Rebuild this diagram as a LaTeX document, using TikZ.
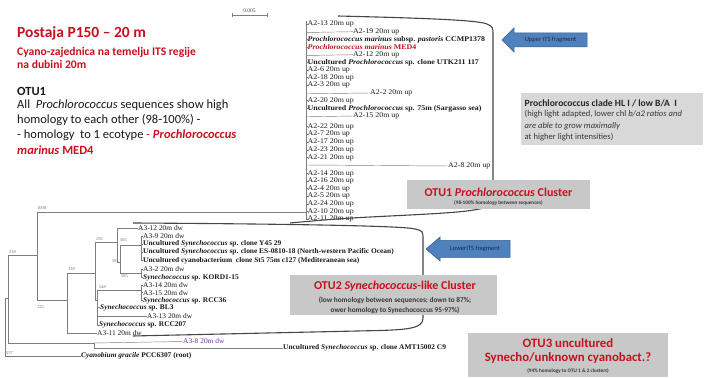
\documentclass[tikz,border=0pt]{standalone}
\usepackage{fontspec}
\setmainfont{Liberation Serif}
\newfontfamily\treefont[FakeStretch=1.1]{Liberation Serif}
\newfontfamily\treefontb[FakeStretch=1.03]{Liberation Serif}
\newfontfamily\calib{Carlito}
\definecolor{txtred}{RGB}{200,16,30}
\definecolor{boxgray}{RGB}{200,200,200}
\definecolor{boxlight}{RGB}{216,216,216}
\definecolor{arrblue}{RGB}{79,129,189}
\definecolor{arredge}{RGB}{56,93,138}
\definecolor{arrtxt}{RGB}{25,40,90}
\definecolor{purp}{RGB}{112,48,160}
\definecolor{treeline}{RGB}{125,125,125}
\definecolor{treetxt}{RGB}{25,25,25}
\definecolor{brkline}{RGB}{70,70,70}
\definecolor{subtxt}{RGB}{55,55,55}
\begin{document}
\begin{tikzpicture}[x=1pt,y=-1pt,
  tl/.style={anchor=west,inner sep=0pt,font=\treefont\fontsize{7.2}{7.2}\selectfont,text=treetxt},
  tlb/.style={anchor=west,inner sep=0pt,font=\treefontb\fontsize{7.2}{7.2}\selectfont,text=treetxt},
  bs/.style={anchor=west,inner sep=0pt,font=\fontsize{4.5}{4.5}\selectfont,text=black!55},
  br/.style={draw=treeline,line width=0.45pt},
  brk/.style={draw=brkline,line width=1.1pt},
  lt/.style={anchor=west,inner sep=0pt,text=treetxt},
  arrowshape/.style={fill=arrblue,draw=arredge,line width=0.5pt},
  arrlabel/.style={inner sep=0pt,font=\calib\fontsize{6.5}{6.5}\selectfont,text=arrtxt},
  redtitle/.style={inner sep=0pt,font=\calib\bfseries\fontsize{12}{12}\selectfont,text=txtred},
  smallsub/.style={inner sep=0pt,font=\calib\bfseries\fontsize{6}{6}\selectfont,text=subtxt}]
\useasboundingbox (0,0) rectangle (705,379);
\fill[white] (0,0) rectangle (705,379);

% ---------- top-left text ----------
\node[lt,font=\calib\bfseries\fontsize{15.5}{15.5}\selectfont,text=txtred] (title) at (17,33) {Postaja P150 – 20 m};
\node[lt,font=\calib\bfseries\fontsize{11.6}{11.6}\selectfont,text=txtred] (sub1) at (17,52) {Cyano-zajednica na temelju ITS regije};
\node[lt,font=\calib\bfseries\fontsize{11.6}{11.6}\selectfont,text=txtred] (sub2) at (17,64.5) {na dubini 20m};
\node[lt,font=\calib\bfseries\fontsize{12.5}{12.5}\selectfont] (otuh) at (17,91) {OTU1};
\node[lt,font=\calib\fontsize{12.5}{12.5}\selectfont] (l1) at (17,105) {All\ \ \textit{Prochlorococcus} sequences show high};
\node[lt,font=\calib\fontsize{12.5}{12.5}\selectfont] (l2) at (17,120) {homology to each other (98-100\%) -};
\node[lt,font=\calib\fontsize{12.5}{12.5}\selectfont] (l3) at (17,135) {- homology\ \ to 1 ecotype {\color{txtred}- \bfseries\itshape Prochlorococcus}};
\node[lt,font=\calib\bfseries\fontsize{12.5}{12.5}\selectfont,text=txtred] (l4) at (17,150) {\textit{marinus} MED4};

% ---------- scale bar ----------
\coordinate (sc1) at (232,15);
\coordinate (sc2) at (267,15);
\draw[br] (sc1) -- (sc2);
\draw[br] ([yshift=-2pt]sc1) -- ([yshift=2pt]sc1);
\draw[br] ([yshift=-2pt]sc2) -- ([yshift=2pt]sc2);
\node[inner sep=0pt,font=\fontsize{5.5}{5.5}\selectfont,text=black!70] (scl) at (249.5,10.5) {0.005};

% ---------- Prochlorococcus clade (A2) ----------
\coordinate (pv1) at (306,21);
\coordinate (pv2) at (306,220);
\draw[br] (pv1) -- (pv2);
\foreach \nm/\y/\txt in {
  a13/24/{A2-13 20m up},
  ccmp/39.3/{\textbf{\textit{Prochlorococcus marinus} subsp. \textit{pastoris} CCMP1378}},
  utk/62.3/{\textbf{Uncultured \textit{Prochlorococcus} sp. clone UTK211 117}},
  a6/70/{A2-6 20m up},
  a18/77.7/{A2-18 20m up},
  a3/85.3/{A2-3 20m up},
  a20/100.7/{A2-20 20m up},
  sarg/108.3/{\textbf{Uncultured \textit{Prochlorococcus} sp. 75m (Sargasso sea)}},
  a22/126.5/{A2-22 20m up},
  a7/134.3/{A2-7 20m up},
  a17/142.1/{A2-17 20m up},
  a23/149.9/{A2-23 20m up},
  a21/157.7/{A2-21 20m up},
  a14/173.5/{A2-14 20m up},
  a16/181.1/{A2-16 20m up},
  a4/188.7/{A2-4 20m up},
  a5/196.3/{A2-5 20m up},
  a24/203.9/{A2-24 20m up},
  a10/211.5/{A2-10 20m up},
  a11/219.1/{A2-11 20m up}} {
  \draw[br] (306,\y) -- (307.5,\y);
  \node[tl] (\nm) at (307.5,\y) {\txt};
}
\node[tl,text=txtred] (med4) at (307.5,47) {\textbf{\textit{Prochlorococcus marinus} MED4}};
\draw[br] (306,47) -- (med4.west);
\node[tl] (a19) at (353,31.7) {A2-19 20m up};
\draw[br] (306,32.5) -- (a19.west);
\node[tl] (a12) at (353,54.7) {A2-12 20m up};
\draw[br] (306,55.5) -- (a12.west);
\node[tl] (a2) at (370,93) {A2-2 20m up};
\draw[br] (306,93.8) -- (a2.west);
\node[tl] (a15) at (353,116) {A2-15 20m up};
\draw[br] (306,116.8) -- (a15.west);
\node[tl] (a8) at (448,166) {A2-8 20m up};
\draw[br] (306,165) -- (a8.west);

% ---------- Synechococcus part ----------
\node[tlb] (b12) at (138,228.5) {A3-12 20m dw};
\node[tlb] (b9) at (143,236.5) {A3-9 20m dw};
\node[tlb] (y45) at (143,244) {\textbf{Uncultured \textit{Synechococcus} sp. clone Y45 29}};
\node[tlb] (es) at (143,252) {\textbf{Uncultured \textit{Synechococcus} sp. clone ES-0810-18 (North-western Pacific Ocean)}};
\node[tlb] (st5) at (143,260.5) {\textbf{Uncultured cyanobacterium\ \ clone St5 75m c127 (Mediteranean sea)}};
\node[tlb] (b2) at (143,269.5) {A3-2 20m dw};
\node[tlb] (kord) at (143,277.5) {\textbf{\textit{Synechococcus} sp. KORD1-15}};
\node[tlb] (b14) at (143,285) {A3-14 20m dw};
\node[tlb] (b15) at (143,292.7) {A3-15 20m dw};
\node[tlb] (rcc36) at (143,300.7) {\textbf{\textit{Synechococcus} sp. RCC36}};
\node[tlb] (bl3) at (100,307.5) {\textbf{\textit{Synechococcus} sp. BL3}};
\node[tlb] (b13) at (147,316) {A3-13 20m dw};
\node[tlb] (rcc207) at (99,325) {\textbf{\textit{Synechococcus} sp. RCC207}};
\node[tlb] (b11) at (97,333.5) {A3-11 20m dw};
\node[tlb,text=purp] (b8) at (183,341.5) {A3-8 20m dw};
\node[tlb] (amt) at (283,347.5) {\textbf{Uncultured \textit{Synechococcus} sp. clone AMT15002 C9}};
\node[tlb] (cyan) at (81,356) {\textbf{\textit{Cyanobium gracile} PCC6307 (root)}};

% internal nodes
\coordinate (R) at (5,298);
\coordinate (N1) at (8,255);
\coordinate (N2) at (37,212);
\coordinate (N3) at (94,343);
\coordinate (N4) at (67,273);
\coordinate (N5) at (95,242);
\coordinate (N6) at (117,228.5);
\coordinate (N7) at (97,290);
\coordinate (N9) at (120,245);
\coordinate (N10) at (141,236.5);
\coordinate (N11) at (141,269.5);
\coordinate (N12) at (141,285);

\draw[br] (R) -- (5,356) -- (cyan.west);
\draw[br] (R) -- (8,298);
\draw[br] (N1) -- (8,343) -- (N3);
\draw[br] (N1) -- (37,255);
\draw[br] (N3) -- (b8.west);
\draw[br] (N3) -- (94,348) -- (amt.west |- 0,348);
\draw[br] (N2) -- (37,300) -- (67,300);
\draw[br] (N2) -- (pv1 |- N2);
\draw[br] (N4) -- (67,333.5) -- (b11.west);
\draw[br] (N4) -- (95,273);
\draw[br] (N5) -- (95,300) -- (97,300);
\draw[br] (N5) -- (117,242);
\draw[br] (N6) -- (117,262) -- (120,262);
\draw[br] (N6) -- (b12.west);
\draw[br] (N9) -- (120,273) -- (141,273);
\draw[br] (N9) -- (141,245);
\draw[br] (N10) -- (141,260.5);
\foreach \nm in {b9,y45,es,st5} \draw[br] (N10 |- \nm.west) -- (\nm.west);
\draw[br] (N11) -- (141,277.5);
\foreach \nm in {b2,kord} \draw[br] (N11 |- \nm.west) -- (\nm.west);
\draw[br] (N7) -- (97,325) -- (rcc207.west);
\draw[br] (N7) -- (141,290);
\draw[br] (97,307.5) -- (bl3.west);
\draw[br] (97,316) -- (b13.west);
\draw[br] (N12) -- (141,300.7);
\foreach \nm in {b14,b15,rcc36} \draw[br] (N12 |- \nm.west) -- (\nm.west);

% bootstrap values
\node[bs] (bs1000) at (37,208) {1000};
\node[bs] (bs239) at (9,252) {239};
\node[bs] (bs125) at (37,307) {125};
\node[bs] (bs139) at (68,269.5) {139};
\node[bs] (bs292) at (96,239) {292};
\node[bs] (bs585a) at (120,240) {585};
\node[bs] (bs581) at (112,261) {581};
\node[bs] (bs585b) at (121,276.5) {585};
\node[bs] (bs548) at (99,287) {548};
\node[bs] (bs537) at (6,353) {537};

% ---------- brackets ----------
\draw[brk] (338,16) .. controls (420,18) and (478,20) .. (487,24) .. controls (493,27) .. (493,36) -- (493,200) .. controls (493,210) and (470,212) .. (400,215.5) .. controls (340,218.5) .. (290,223);
\draw[brk] (133,223) .. controls (300,224) and (405,226) .. (415,229) .. controls (423,231) .. (423,240) -- (423,318) .. controls (423,328) and (410,329.5) .. (380,330.5) -- (133,336);

% ---------- arrows ----------
\draw[arrowshape] (502,40) -- (514,28) -- (514,33) -- (587,33) -- (587,47) -- (514,47) -- (514,52) -- cycle;
\node[arrlabel] (upits) at (550.5,40) {Upper ITS fragment};
\draw[arrowshape] (426,249) -- (440,237) -- (440,240.5) -- (510,240.5) -- (510,257.5) -- (440,257.5) -- (440,261) -- cycle;
\node[arrlabel] (lowits) at (475,249) {LowerITS fragment};

% ---------- grey boxes ----------
\fill[boxlight] (521,93) rectangle (703,145);
\node[lt,font=\calib\bfseries\fontsize{9.6}{9.6}\selectfont,text=black!85] (hl1) at (524.5,103) {Prochlorococcus clade HL I / low B/A\ \ I};
\node[lt,font=\calib\fontsize{8.6}{8.6}\selectfont,text=subtxt] (hl2) at (524.5,114.5) {(high light adapted, lower chl \textit{b/a2 ratios and}};
\node[lt,font=\calib\itshape\fontsize{8.6}{8.6}\selectfont,text=subtxt] (hl3) at (524.5,126) {are able to grow maximally};
\node[lt,font=\calib\fontsize{8.6}{8.6}\selectfont,text=subtxt] (hl4) at (524.5,137) {at higher light intensities)};

\fill[boxgray] (407,180) rectangle (590,209);
\node[redtitle] (o1t) at (498.5,192) {OTU1 \textit{Prochlorococcus} Cluster};
\node[smallsub,font=\calib\bfseries\fontsize{5.2}{5.2}\selectfont] (o1s) at (498.5,203) {(98-100\% homology between sequences)};

\fill[boxgray] (290,275) rectangle (497,315);
\node[redtitle] (o2t) at (395,286.5) {OTU2 \textit{Synechococcus}-like Cluster};
\node[smallsub,font=\calib\bfseries\fontsize{7.3}{7.3}\selectfont] (o2s1) at (395,300.5) {(low homology between sequences; down to 87\%;};
\node[smallsub,font=\calib\bfseries\fontsize{7.3}{7.3}\selectfont] (o2s2) at (395,310) {ower homology to Synechococcus 95-97\%)};

\fill[boxgray] (468,333) rectangle (668,377);
\node[redtitle,font=\calib\bfseries\fontsize{12.8}{12.8}\selectfont] (o3t1) at (568,343.5) {OTU3 uncultured};
\node[redtitle,font=\calib\bfseries\fontsize{12.8}{12.8}\selectfont] (o3t2) at (568,358.5) {Synecho/unknown cyanobact.?};
\node[smallsub,font=\calib\bfseries\fontsize{5.2}{5.2}\selectfont] (o3s) at (568,371) {(94\% homology to OTU 1 \& 2 clusters)};
\end{tikzpicture}
\end{document}
